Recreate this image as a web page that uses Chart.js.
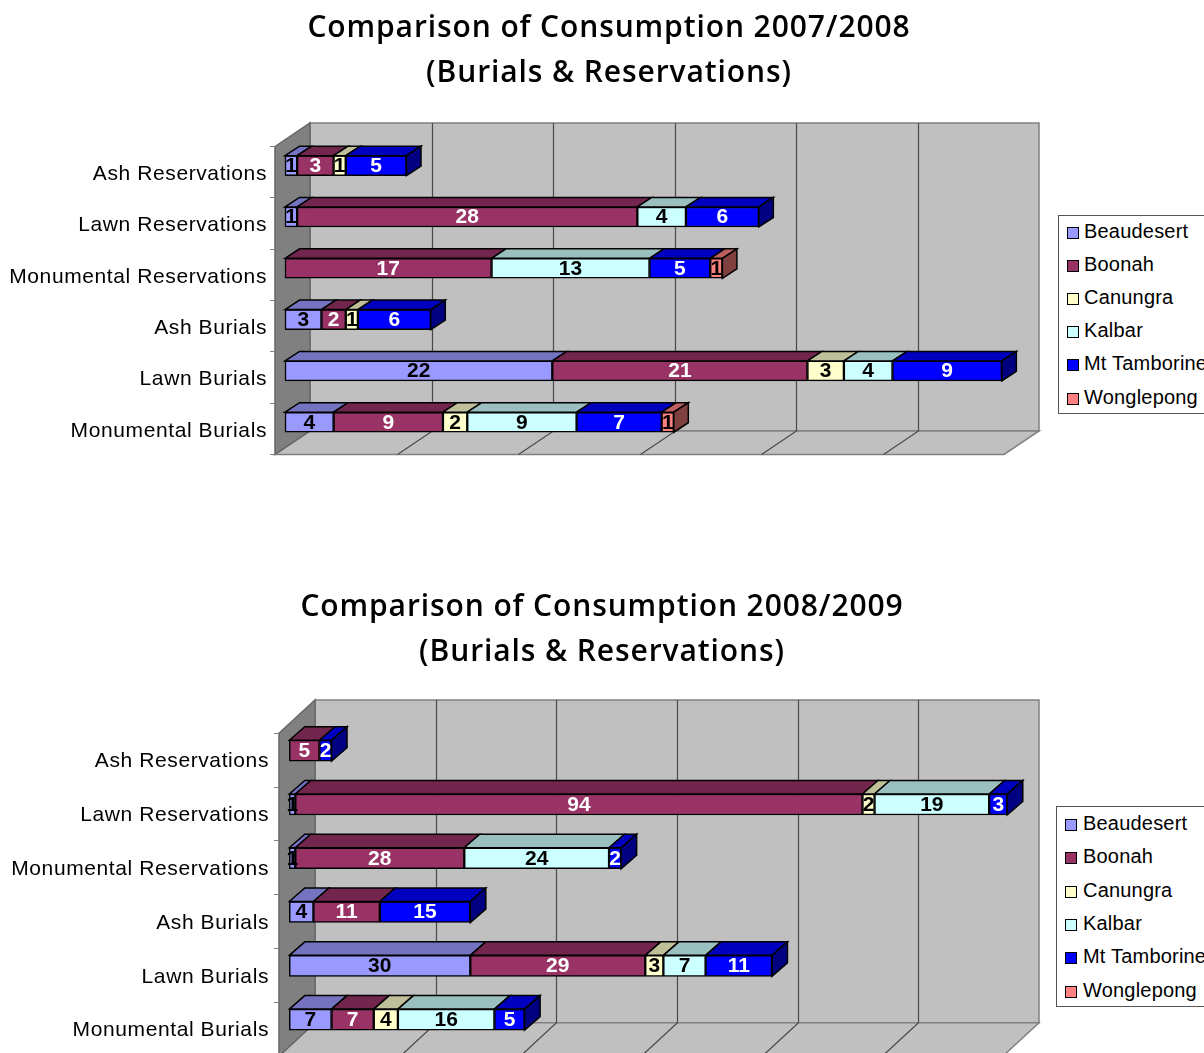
<!DOCTYPE html>
<html>
<head>
<meta charset="utf-8">
<title>Comparison of Consumption</title>
<script src="https://cdn.jsdelivr.net/npm/chart.js@4/dist/chart.umd.min.js"></script>
<style>
  html, body { margin: 0; padding: 0; background: #fff; width: 1204px; height: 1053px; overflow: hidden; }
  canvas { position: absolute; left: 0; }
  .title {
    position: absolute; text-align: center; white-space: nowrap;
    font: 600 30px "Open Sans", "DejaVu Sans", sans-serif; letter-spacing: 0.9px; line-height: 45px; color: #000;
  }
  .legend {
    position: absolute; border: 1px solid #555; border-right: none; background: #fff; box-sizing: border-box;
    overflow: hidden; font: 20px "Liberation Sans", Arial, sans-serif; letter-spacing: 0.2px; color: #000;
  }
  .legend div { position: absolute; white-space: nowrap; line-height: 24px; }
  .legend i { position: absolute; width: 10px; height: 10px; border: 1.5px solid #000; }
</style>
</head>
<body>
<canvas id="chart1"></canvas>
<canvas id="chart2"></canvas>
<script>
// categories and series
const categories = ["Ash Reservations", "Lawn Reservations", "Monumental Reservations", "Ash Burials", "Lawn Burials", "Monumental Burials"];
const seriesNames = ["Beaudesert", "Boonah", "Canungra", "Kalbar", "Mt Tamborine", "Wonglepong"];
const seriesColors = ["#9999FF", "#993366", "#FFFFCC", "#CCFFFF", "#0000FF", "#FF8080"];
const labelColors = ["#000", "#fff", "#000", "#000", "#fff", "#000"];

const beaudesert0708 = [1, 1, null, 3, 22, 4];
const boonah0708 = [3, 28, 17, 2, 21, 9];
const canungra0708 = [1, null, null, 1, 3, 2];
const kalbar0708 = [null, 4, 13, null, 4, 9];
const tamborine0708 = [5, 6, 5, 6, 9, 7];
const wonglepong0708 = [null, null, 1, null, null, 1];

const beaudesert0809 = [null, 1, 1, 4, 30, 7];
const boonah0809 = [5, 94, 28, 11, 29, 7];
const canungra0809 = [null, 2, null, null, 3, 4];
const kalbar0809 = [null, 19, 24, null, 7, 16];
const tamborine0809 = [2, 3, 2, 15, 11, 5];
const wonglepong0809 = [null, null, null, null, null, null];

function shade(hex, f) {
  const n = parseInt(hex.slice(1), 16);
  const c = [n >> 16, (n >> 8) & 255, n & 255].map(v => Math.round(v * f));
  return `rgb(${c[0]},${c[1]},${c[2]})`;
}

function poly(ctx, pts, fill, stroke, lw) {
  ctx.beginPath();
  pts.forEach((p, i) => i ? ctx.lineTo(p[0], p[1]) : ctx.moveTo(p[0], p[1]));
  ctx.closePath();
  if (fill) { ctx.fillStyle = fill; ctx.fill(); }
  if (stroke) { ctx.strokeStyle = stroke; ctx.lineWidth = lw; ctx.stroke(); }
}

// fake 3D look: walls + floor behind, bars pushed into the box, depth faces on the bars
const box3d = {
  id: "box3d",
  beforeDraw(chart, args, o) {
    const { ctx, chartArea: a } = chart;
    const xs = chart.scales.x;
    ctx.save();
    poly(ctx, [[a.left + o.dx, a.top - o.dy], [a.right + o.dx, a.top - o.dy], [a.right + o.dx, a.bottom - o.dy], [a.left + o.dx, a.bottom - o.dy]], "#C0C0C0", "#808080", 1.5);
    poly(ctx, [[a.left, a.bottom], [a.left + o.dx, a.bottom - o.dy], [a.right + o.dx, a.bottom - o.dy], [a.right, a.bottom]], "#C0C0C0", "#808080", 1.5);
    poly(ctx, [[a.left, a.top], [a.left + o.dx, a.top - o.dy], [a.left + o.dx, a.bottom - o.dy], [a.left, a.bottom]], "#808080", "#666", 1.5);
    xs.ticks.forEach(t => {
      if (t.value === xs.min || t.value === xs.max) return;
      const x = Math.round(xs.getPixelForValue(t.value));
      ctx.beginPath();
      ctx.moveTo(x + o.dx + 0.5, a.top - o.dy);
      ctx.lineTo(x + o.dx + 0.5, a.bottom - o.dy);
      ctx.lineTo(x + 0.5, a.bottom);
      ctx.strokeStyle = "#4a4a4a";
      ctx.lineWidth = 1.2;
      ctx.stroke();
    });
    ctx.restore();
    ctx.letterSpacing = o.tickSpacing + "px";
  },
  beforeDatasetsDraw(chart, args, o) {
    chart.ctx.save();
    chart.ctx.translate(o.barX, o.barY);
  },
  afterDatasetsDraw(chart, args, o) {
    const ctx = chart.ctx;
    const last = {};
    chart.data.datasets.forEach((ds, d) => {
      chart.getDatasetMeta(d).data.forEach((bar, i) => {
        if (ds.data[i] == null) return;
        const p = bar.getProps(["x", "y", "base", "height"], true);
        const top = p.y - p.height / 2;
        poly(ctx, [[p.base, top], [p.base + o.barDx, top - o.barDy], [p.x + o.barDx, top - o.barDy], [p.x, top]], shade(seriesColors[d], 0.75), "#000", 1.5);
        last[i] = { p, top, d };
      });
    });
    Object.values(last).forEach(({ p, top, d }) => {
      poly(ctx, [[p.x, top], [p.x + o.barDx, top - o.barDy], [p.x + o.barDx, top - o.barDy + p.height], [p.x, top + p.height]], shade(seriesColors[d], 0.5), "#000", 1.5);
    });
    // value labels sit on the front faces
    ctx.letterSpacing = "0px";
    ctx.font = 'bold 21px "Liberation Sans", Arial, sans-serif';
    ctx.textAlign = "center";
    ctx.textBaseline = "middle";
    chart.data.datasets.forEach((ds, d) => {
      chart.getDatasetMeta(d).data.forEach((bar, i) => {
        if (ds.data[i] == null) return;
        const p = bar.getProps(["x", "y", "base"], true);
        ctx.fillStyle = labelColors[d];
        ctx.fillText(ds.data[i], (p.base + p.x) / 2, p.y + 0.5);
      });
    });
    ctx.letterSpacing = o.tickSpacing + "px";
    ctx.restore();
  }
};

function makeChart(id, canvasTop, canvasHeight, rows, g) {
  const el = document.getElementById(id);
  el.style.top = canvasTop + "px";
  return new Chart(el, {
    type: "bar",
    plugins: [box3d],
    data: {
      labels: categories,
      datasets: seriesNames.map((name, i) => ({
        label: name,
        data: rows[i],
        backgroundColor: seriesColors[i],
        borderColor: "#000",
        borderWidth: 1.5,
        borderSkipped: false,
        barThickness: g.thick,
        clip: false
      }))
    },
    options: {
      indexAxis: "y",
      responsive: false,
      animation: false,
      maintainAspectRatio: false,
      layout: { padding: { left: 0, top: g.top - canvasTop, right: 1204 - g.right, bottom: canvasTop + canvasHeight - g.bottom } },
      plugins: {
        legend: { display: false },
        tooltip: { enabled: false },
        box3d: { dx: g.dx, dy: g.dy, barX: g.barX, barY: g.barY, barDx: g.barDx, barDy: g.barDy, tickSpacing: g.tickSpacing }
      },
      scales: {
        x: {
          stacked: true, min: 0, max: g.max, display: true,
          afterFit(s) { s.height = 0; },
          ticks: { display: false, stepSize: g.step },
          grid: { display: false }, border: { display: false }
        },
        y: {
          stacked: true,
          afterFit(s) { s.width = g.left; },
          ticks: { color: "#000", padding: g.tickPad, labelOffset: g.labelOffset, font: { family: '"Liberation Sans", Arial, sans-serif', size: 21 } },
          grid: { drawOnChartArea: false, drawTicks: true, tickLength: 5, color: "#808080" },
          border: { display: false }
        }
      }
    }
  });
}

function addTitle(lines, cx, top) {
  const t = document.createElement("div");
  t.className = "title";
  t.innerHTML = lines.join("<br>");
  t.style.left = cx + "px";
  t.style.top = top + "px";
  t.style.transform = "translateX(-50%)";
  document.body.appendChild(t);
}

function addLegend(left, top, height, firstY, gap, textX, swatchX) {
  const box = document.createElement("div");
  box.className = "legend";
  box.style.cssText = `left:${left}px;top:${top}px;height:${height}px;width:${1204 - left + 40}px`;
  seriesNames.forEach((name, i) => {
    const sw = document.createElement("i");
    sw.style.cssText = `left:${swatchX - left}px;top:${firstY + gap * i - top - 6}px;background:${seriesColors[i]}`;
    const tx = document.createElement("div");
    tx.textContent = name;
    tx.style.cssText = `left:${textX - left}px;top:${firstY + gap * i - top - 14}px`;
    box.appendChild(sw);
    box.appendChild(tx);
  });
  document.body.appendChild(box);
}

const el1 = document.getElementById("chart1"); el1.width = 1204; el1.height = 470;
const el2 = document.getElementById("chart2"); el2.width = 1204; el2.height = 500;

makeChart("chart1", 0, 470,
  [beaudesert0708, boonah0708, canungra0708, kalbar0708, tamborine0708, wonglepong0708],
  { left: 275, right: 1004, top: 146.5, bottom: 454.5, dx: 35, dy: 23.5, max: 60, step: 10, thick: 20, barX: 10, barY: -6.5, barDx: 14.5, barDy: 9.5, tickSpacing: 0.6, tickPad: 3, labelOffset: 2 });

makeChart("chart2", 580, 500,
  [beaudesert0809, boonah0809, canungra0809, kalbar0809, tamborine0809, wonglepong0809],
  { left: 279, right: 1003, top: 733.3, bottom: 1056, dx: 36, dy: 33.3, max: 120, step: 20, thick: 21, barX: 10.3, barY: -9.5, barDx: 15.5, barDy: 13.5, tickSpacing: 0.6, tickPad: 5, labelOffset: 1.5 });

addTitle(["Comparison of Consumption 2007/2008", "(Burials &amp; Reservations)"], 609, 3);
addTitle(["Comparison of Consumption 2008/2009", "(Burials &amp; Reservations)"], 602, 582);
addLegend(1058, 215, 199, 232, 33.1, 1083, 1066);
addLegend(1056, 806, 201, 824, 33.3, 1082, 1064);
</script>
</body>
</html>
